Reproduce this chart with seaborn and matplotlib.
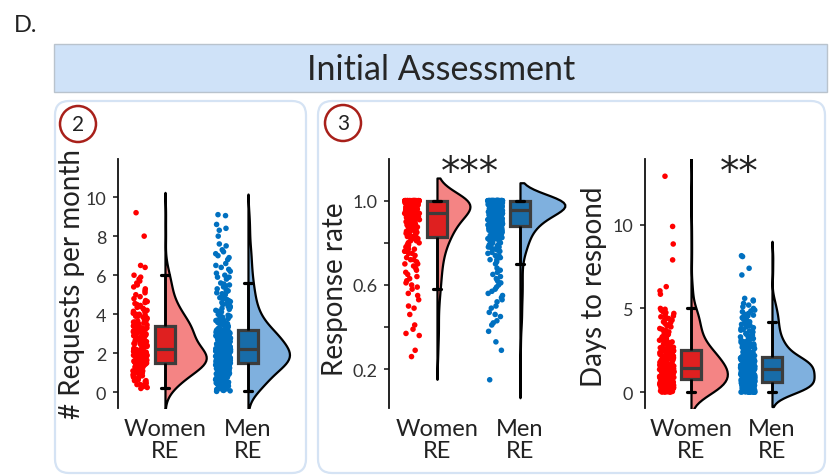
import numpy as np
import pandas as pd
import seaborn as sns
import matplotlib.pyplot as plt
import matplotlib.transforms as mtransforms
from matplotlib.patches import FancyBboxPatch, Rectangle, Circle

sns.set_theme(style="ticks")
plt.rcParams['font.family'] = ['Lato', 'DejaVu Sans']

np.random.seed(3)

groups = ["Women\nRE", "Men\nRE"]
dot_colors = ["#ff0000", "#0070c0"]
cloud_colors = ["#f48484", "#7fb0de"]
box_edge = "#3c3c3c"

# requests per month
req_women = [0.2, 0.3, 0.4, 0.4, 0.5, 0.6, 0.6, 0.7, 0.8, 0.8, 0.9, 0.9, 1.0, 1.0, 1.1,
             1.1, 1.1, 1.2, 1.2, 1.2, 1.3, 1.3, 1.3, 1.3, 1.4, 1.4, 1.4, 1.4, 1.5, 1.5,
             0.25, 0.35, 0.45, 0.55, 0.65, 0.75, 0.85, 0.95, 1.05, 1.15, 1.15, 1.25,
             1.25, 1.35, 1.35, 1.45, 1.45, 1.45, 1.5, 1.5,
             1.5, 1.5, 1.6, 1.6, 1.6, 1.6, 1.7, 1.7, 1.7, 1.7, 1.7, 1.8, 1.8, 1.8, 1.8,
             1.9, 1.9, 1.9, 1.9, 2.0, 2.0, 2.0, 2.0, 2.1, 2.1, 2.1, 2.1, 2.2, 2.2, 2.2,
             1.55, 1.55, 1.65, 1.65, 1.65, 1.75, 1.75, 1.75, 1.85, 1.85, 1.85, 1.95,
             1.95, 1.95, 2.05, 2.05, 2.15, 2.15, 2.2, 2.2,
             2.2, 2.3, 2.3, 2.4, 2.4, 2.5, 2.5, 2.6, 2.6, 2.7, 2.7, 2.8, 2.8, 2.9, 2.9,
             3.0, 3.0, 3.0, 3.1, 3.1, 3.1, 3.2, 3.2, 3.2, 3.3, 3.3, 3.3, 3.4, 3.4, 3.4,
             2.25, 2.35, 2.45, 2.55, 2.65, 2.75, 2.85, 2.95, 3.05, 3.15, 3.25, 3.35,
             2.3, 2.5, 2.7, 2.9, 3.1, 3.3, 2.6, 3.0,
             3.5, 3.5, 3.6, 3.6, 3.7, 3.7, 3.8, 3.9, 3.9, 4.0, 4.1, 4.2, 4.3, 4.4, 4.5,
             4.6, 4.7, 4.8, 5.0, 5.1, 5.3, 5.5, 5.6, 5.8, 5.9, 6.0, 6.4, 6.5, 8.0, 9.2,
             3.45, 3.55, 3.65, 3.75, 3.85, 3.95, 4.05, 4.15, 4.25, 4.35, 4.45, 4.55,
             4.65, 4.9, 5.2, 5.4, 5.7, 3.6, 3.8, 4.0]
req_men = [0.05, 0.1, 0.1, 0.15, 0.2, 0.2, 0.25, 0.3, 0.3, 0.35, 0.4, 0.4, 0.45, 0.5, 0.5,
           0.55, 0.6, 0.6, 0.65, 0.7, 0.7, 0.75, 0.8, 0.8, 0.85, 0.9, 0.9, 0.95, 1.0, 1.0,
           1.05, 1.1, 1.1, 1.15, 1.2, 1.2, 1.25, 1.25, 1.3, 1.3, 1.35, 1.35, 1.4, 1.4, 1.4,
           1.45, 1.45, 1.5, 1.5, 1.5,
           0.08, 0.12, 0.18, 0.22, 0.28, 0.32, 0.38, 0.42, 0.48, 0.52, 0.58, 0.62, 0.68,
           0.72, 0.78, 0.82, 0.88, 0.92, 0.98, 1.02, 1.08, 1.12, 1.18, 1.22, 1.28, 1.32,
           1.38, 1.42, 1.48, 1.15, 1.25, 1.35, 1.45, 1.05, 0.95, 1.3, 1.4, 1.2, 1.1, 1.47,
           1.50, 1.51, 1.53, 1.54, 1.56, 1.57, 1.58, 1.60, 1.61, 1.63, 1.64, 1.65, 1.67,
           1.68, 1.70, 1.71, 1.72, 1.74, 1.75, 1.77, 1.78, 1.79, 1.81, 1.82, 1.84, 1.85,
           1.86, 1.88, 1.89, 1.91, 1.92, 1.93, 1.95, 1.96, 1.98, 1.99, 2.00, 2.02, 2.03,
           2.05, 2.06, 2.07, 2.09, 2.10, 2.12, 2.13, 2.14, 2.16, 2.18, 2.20,
           1.52, 1.55, 1.59, 1.62, 1.66, 1.69, 1.73, 1.76, 1.8, 1.83, 1.87, 1.9, 1.94,
           1.97, 2.01, 2.04, 2.08, 2.11, 2.15, 2.19, 1.53, 1.6, 1.67, 1.74, 1.81, 1.88,
           1.95, 2.02, 2.09, 2.17, 1.58, 1.7, 1.78, 1.86, 1.92, 2.0, 1.63, 1.76, 1.84, 1.9,
           2.21, 2.23, 2.24, 2.27, 2.28, 2.31, 2.32, 2.35, 2.36, 2.39, 2.41, 2.42, 2.45,
           2.46, 2.49, 2.51, 2.52, 2.55, 2.57, 2.58, 2.61, 2.63, 2.64, 2.67, 2.68, 2.71,
           2.73, 2.74, 2.77, 2.78, 2.81, 2.83, 2.84, 2.87, 2.88, 2.91, 2.93, 2.94, 2.97,
           2.98, 3.01, 3.03, 3.04, 3.07, 3.08, 3.11, 3.13, 3.15, 3.17, 3.2,
           2.22, 2.25, 2.3, 2.34, 2.38, 2.43, 2.47, 2.53, 2.56, 2.6, 2.65, 2.69, 2.72,
           2.76, 2.8, 2.85, 2.9, 2.95, 2.99, 3.02, 3.06, 3.1, 3.14, 3.18, 2.26, 2.37,
           2.48, 2.59, 2.7, 2.82, 2.92, 3.05, 2.33, 2.55, 2.75, 2.96, 2.44, 2.66, 2.86, 3.12,
           3.2, 3.25, 3.3, 3.35, 3.4, 3.45, 3.5, 3.55, 3.6, 3.65, 3.7, 3.75, 3.8, 3.9,
           3.95, 4.0, 4.1, 4.15, 4.2, 4.3, 4.4, 4.45, 4.5, 4.6, 4.7, 4.8, 4.9, 5.0, 5.1,
           5.2, 5.3, 5.4, 5.5, 5.55, 5.6, 5.8, 5.9, 6.0, 6.1, 6.3, 6.5, 6.6, 6.9, 7.0,
           7.2, 7.5, 8.0, 8.3, 8.6, 9.1,
           3.22, 3.28, 3.33, 3.38, 3.42, 3.48, 3.52, 3.58, 3.62, 3.68, 3.72, 3.78, 3.85,
           3.92, 4.05, 4.12, 4.25, 4.35, 4.55, 4.65, 4.75, 4.85, 5.05, 5.15, 5.25, 5.45,
           3.5, 3.7, 3.9, 4.1, 4.4, 5.9, 6.2, 6.4, 6.8, 7.1, 7.3, 7.6, 8.4, 9.05]

# response rate
resp_women = [0.26, 0.29, 0.36, 0.37, 0.39, 0.41, 0.49, 0.50, 0.55, 0.56,
              0.59, 0.60, 0.62, 0.64, 0.66, 0.67, 0.69, 0.70, 0.71, 0.72,
              0.73, 0.75, 0.76, 0.77, 0.78, 0.79, 0.80, 0.81, 0.82, 0.82,
              0.58, 0.61, 0.63, 0.65, 0.68, 0.70, 0.72, 0.74, 0.75, 0.76,
              0.77, 0.78, 0.79, 0.80, 0.80, 0.81, 0.82, 0.82, 0.46, 0.53,
              0.83, 0.83, 0.84, 0.84, 0.85, 0.85, 0.86, 0.86, 0.87, 0.87,
              0.87, 0.88, 0.88, 0.88, 0.89, 0.89, 0.90, 0.90, 0.90, 0.91,
              0.91, 0.91, 0.92, 0.92, 0.92, 0.93, 0.93, 0.93, 0.93, 0.94,
              0.83, 0.84, 0.845, 0.85, 0.855, 0.86, 0.865, 0.87, 0.875, 0.88,
              0.885, 0.89, 0.895, 0.90, 0.905, 0.91, 0.915, 0.92, 0.925, 0.935,
              0.94, 0.94, 0.94, 0.94, 0.94, 0.95, 0.95, 0.95, 0.95, 0.95,
              0.96, 0.96, 0.96, 0.96, 0.97, 0.97, 0.97, 0.97, 0.98, 0.98,
              0.98, 0.99, 0.99, 0.99,
              0.99, 0.99, 0.98, 0.98, 0.97, 0.97, 0.97, 0.96, 0.96, 0.96,
              0.95, 0.95, 0.95, 0.945, 0.945, 0.94,
              1.0, 1.0, 1.0, 1.0, 1.0, 1.0, 1.0, 1.0, 1.0, 1.0, 1.0, 1.0,
              1.0, 1.0, 1.0, 1.0, 1.0, 1.0, 1.0, 1.0, 1.0, 1.0, 1.0, 1.0,
              1.0, 1.0, 1.0, 1.0, 1.0, 1.0, 1.0, 1.0, 1.0, 1.0, 1.0, 1.0,
              1.0, 1.0, 1.0, 1.0, 1.0, 1.0, 1.0, 1.0, 1.0, 1.0, 1.0, 1.0,
              1.0, 1.0, 1.0, 1.0, 1.0, 1.0, 1.0, 1.0, 1.0, 1.0, 1.0, 1.0]
resp_men = [0.15, 0.29, 0.33, 0.41, 0.43, 0.45, 0.47, 0.50, 0.52, 0.54, 0.56, 0.58, 0.60,
            0.62, 0.64, 0.66, 0.68,
            0.71, 0.72, 0.73, 0.74, 0.75, 0.76, 0.77, 0.78, 0.78, 0.79, 0.80, 0.80, 0.81,
            0.81, 0.82, 0.82, 0.83, 0.83, 0.84, 0.84, 0.85, 0.85, 0.85, 0.86, 0.86, 0.86,
            0.87, 0.87, 0.87, 0.875, 0.875, 0.876, 0.877,
            0.38, 0.42, 0.46, 0.49, 0.53, 0.55, 0.57, 0.59, 0.61, 0.63, 0.65, 0.67,
            0.70, 0.72, 0.74, 0.755, 0.765, 0.775, 0.785, 0.795, 0.805, 0.815, 0.825,
            0.835, 0.845, 0.855, 0.865, 0.87, 0.872, 0.874, 0.80, 0.81, 0.82, 0.83,
            0.84, 0.85, 0.86, 0.79, 0.78, 0.77,
            0.88, 0.88, 0.885, 0.89, 0.89, 0.895, 0.90, 0.90, 0.90, 0.905, 0.91, 0.91,
            0.91, 0.915, 0.915, 0.92, 0.92, 0.92, 0.92, 0.925, 0.925, 0.93, 0.93, 0.93,
            0.93, 0.935, 0.935, 0.935, 0.94, 0.94, 0.94, 0.94, 0.94, 0.945, 0.945, 0.945,
            0.945, 0.95, 0.95, 0.95, 0.95, 0.95, 0.95, 0.95, 0.953, 0.953, 0.954, 0.954,
            0.955, 0.955,
            0.879, 0.882, 0.884, 0.887, 0.889, 0.892, 0.894, 0.897, 0.899, 0.902, 0.904,
            0.907, 0.909, 0.912, 0.914, 0.917, 0.919, 0.922, 0.924, 0.927, 0.929, 0.932,
            0.934, 0.937, 0.939, 0.942, 0.944, 0.947, 0.949, 0.951, 0.952, 0.953, 0.954,
            0.955, 0.93, 0.92, 0.91, 0.90, 0.94, 0.95,
            0.956, 0.956, 0.956, 0.956, 0.96, 0.96, 0.96, 0.96, 0.96, 0.96, 0.96, 0.96,
            0.965, 0.965, 0.965, 0.965, 0.965, 0.965, 0.97, 0.97, 0.97, 0.97, 0.97, 0.97,
            0.975, 0.975, 0.975, 0.975, 0.98, 0.98, 0.98, 0.98, 0.98, 0.98,
            0.99, 0.99, 0.99, 0.99, 0.99, 0.99,
            0.957, 0.958, 0.96, 0.96, 0.962, 0.963, 0.965, 0.966, 0.968, 0.97, 0.97,
            0.972, 0.974, 0.975, 0.977, 0.978, 0.98, 0.98, 0.982, 0.984, 0.985, 0.986,
            0.988, 0.99, 0.99, 0.992, 0.994, 0.995, 0.996, 0.997, 0.998, 0.999,
            1.0, 1.0, 1.0, 1.0, 1.0, 1.0, 1.0, 1.0, 1.0, 1.0, 1.0, 1.0, 1.0, 1.0, 1.0,
            1.0, 1.0, 1.0, 1.0, 1.0, 1.0, 1.0, 1.0, 1.0, 1.0, 1.0, 1.0, 1.0, 1.0, 1.0,
            1.0, 1.0, 1.0, 1.0, 1.0, 1.0, 1.0, 1.0, 1.0, 1.0, 1.0, 1.0, 1.0, 1.0, 1.0,
            1.0, 1.0, 1.0, 1.0, 1.0, 1.0, 1.0, 1.0, 1.0, 1.0, 1.0, 1.0, 1.0, 1.0, 1.0,
            1.0, 1.0, 1.0, 1.0, 1.0, 1.0, 1.0, 1.0, 1.0, 1.0, 1.0, 1.0, 1.0, 1.0, 1.0,
            1.0, 1.0, 1.0, 1.0, 1.0, 1.0, 1.0, 1.0, 1.0, 1.0, 1.0, 1.0, 1.0, 1.0, 1.0,
            1.0, 1.0, 1.0, 1.0, 1.0, 1.0, 1.0, 1.0, 1.0, 1.0, 1.0, 1.0, 1.0, 1.0, 1.0,
            1.0, 1.0, 1.0]

# days to respond
days_women = [0.0, 0.0, 0.02, 0.03, 0.05, 0.06, 0.08, 0.1, 0.1, 0.12, 0.15, 0.17, 0.2,
              0.22, 0.25, 0.27, 0.3, 0.32, 0.35, 0.37, 0.4, 0.42, 0.45, 0.48, 0.5, 0.52,
              0.55, 0.58, 0.6, 0.63, 0.66, 0.7, 0.75,
              0.0, 0.01, 0.04, 0.07, 0.09, 0.11, 0.14, 0.18, 0.21, 0.24, 0.28, 0.31,
              0.34, 0.38, 0.43, 0.47, 0.53, 0.57, 0.65, 0.72,
              0.77, 0.8, 0.82, 0.84, 0.86, 0.88, 0.9, 0.92, 0.94, 0.96, 0.98, 1.0, 1.02,
              1.05, 1.07, 1.1, 1.12, 1.14, 1.17, 1.2, 1.22, 1.24, 1.27, 1.29, 1.31, 1.33,
              1.35, 1.37, 1.39, 1.41, 1.43, 1.45,
              0.79, 0.83, 0.87, 0.91, 0.95, 0.99, 1.03, 1.06, 1.09, 1.13, 1.16, 1.19,
              1.23, 1.26, 1.3, 1.34, 1.36, 1.4, 1.42, 1.44,
              1.47, 1.5, 1.53, 1.56, 1.6, 1.63, 1.66, 1.7, 1.73, 1.76, 1.8, 1.83, 1.86,
              1.9, 1.93, 1.96, 2.0, 2.03, 2.06, 2.1, 2.13, 2.16, 2.2, 2.23, 2.26, 2.3,
              2.33, 2.36, 2.4, 2.43, 2.46, 2.48,
              1.48, 1.52, 1.58, 1.62, 1.68, 1.72, 1.78, 1.85, 1.91, 1.98, 2.05, 2.08,
              2.15, 2.18, 2.25, 2.28, 2.35, 2.38, 2.42, 2.47,
              2.52, 2.6, 2.7, 2.8, 2.9, 3.0, 3.1, 3.2, 3.3, 3.4, 3.5, 3.6, 3.7, 3.8, 3.9,
              4.0, 4.1, 4.2, 4.3, 4.4, 4.5, 4.6, 4.7, 4.8, 4.9, 5.0,
              5.85, 6.05, 6.3, 7.9, 8.85, 9.9, 12.9,
              2.55, 2.65, 2.75, 2.85, 2.95, 3.05, 3.15, 3.25, 3.45, 3.55, 3.75, 3.95,
              4.15, 4.35, 4.55, 4.75, 4.95, 2.58, 2.68, 3.35]
days_men = [0.0, 0.0, 0.0, 0.0, 0.0, 0.02, 0.03, 0.04, 0.05, 0.06, 0.07, 0.08, 0.09, 0.1,
            0.11, 0.12, 0.13, 0.14, 0.15, 0.16, 0.18, 0.2, 0.21, 0.22, 0.24, 0.25, 0.27,
            0.28, 0.3, 0.31, 0.33, 0.34, 0.36, 0.37, 0.39, 0.4, 0.42, 0.43, 0.45, 0.46,
            0.48, 0.49, 0.5, 0.52, 0.53, 0.55, 0.56, 0.57, 0.58, 0.6,
            0.0, 0.0, 0.0, 0.01, 0.02, 0.03, 0.05, 0.06, 0.08, 0.1, 0.12, 0.14, 0.16,
            0.17, 0.19, 0.21, 0.23, 0.25, 0.26, 0.28, 0.3, 0.32, 0.34, 0.35, 0.37, 0.39,
            0.41, 0.43, 0.44, 0.46, 0.48, 0.5, 0.51, 0.53, 0.54, 0.55, 0.56, 0.57, 0.58,
            0.59,
            0.61, 0.63, 0.64, 0.66, 0.67, 0.69, 0.7, 0.72, 0.73, 0.75, 0.76, 0.78, 0.79,
            0.81, 0.82, 0.84, 0.85, 0.87, 0.88, 0.9, 0.91, 0.93, 0.94, 0.96, 0.97, 0.99,
            1.0, 1.02, 1.03, 1.05, 1.06, 1.08, 1.09, 1.11, 1.12, 1.14, 1.15, 1.17, 1.18,
            1.2, 1.22, 1.23, 1.25, 1.27, 1.28, 1.3, 1.32, 1.33, 1.35, 1.36,
            0.62, 0.65, 0.68, 0.71, 0.74, 0.77, 0.8, 0.83, 0.86, 0.89, 0.92, 0.95, 0.98,
            1.01, 1.04, 1.07, 1.1, 1.13, 1.16, 1.19, 1.21, 1.24, 1.26, 1.29, 1.31, 1.34,
            1.36, 0.7, 0.8, 0.9, 1.0, 1.1, 1.2, 1.3, 0.75, 0.85, 0.95, 1.05, 1.15, 1.25,
            1.38, 1.39, 1.41, 1.42, 1.44, 1.45, 1.47, 1.48, 1.5, 1.51, 1.53, 1.54, 1.56,
            1.57, 1.59, 1.6, 1.61, 1.63, 1.64, 1.66, 1.67, 1.69, 1.7, 1.71, 1.73, 1.74,
            1.76, 1.77, 1.79, 1.8, 1.81, 1.83, 1.84, 1.86, 1.87, 1.89, 1.9, 1.91, 1.93,
            1.94, 1.96, 1.97, 1.99, 2.0, 2.01, 2.02, 2.03, 2.05, 2.06, 2.07,
            1.38, 1.4, 1.43, 1.46, 1.49, 1.52, 1.55, 1.58, 1.62, 1.65, 1.68, 1.72, 1.75,
            1.78, 1.82, 1.85, 1.88, 1.92, 1.95, 1.98, 2.01, 2.04, 2.06, 2.07, 1.5, 1.6,
            1.7, 1.8, 1.9, 2.0, 1.45, 1.55, 1.65, 1.75, 1.85, 1.95, 1.42, 1.58, 1.72, 1.88,
            2.1, 2.15, 2.2, 2.25, 2.3, 2.35, 2.4, 2.45, 2.5, 2.55, 2.6, 2.65, 2.7, 2.75,
            2.8, 2.85, 2.9, 2.95, 3.0, 3.1, 3.2, 3.3, 3.4, 3.5, 3.6, 3.7, 3.8, 3.9, 3.95,
            4.0, 4.15, 4.2, 4.35, 4.4, 4.45, 4.5, 4.6, 4.65, 4.7, 4.8, 4.9, 5.0, 5.1, 5.3,
            5.5, 5.6, 7.0, 7.4, 8.1, 8.15,
            2.12, 2.18, 2.22, 2.28, 2.32, 2.38, 2.42, 2.48, 2.52, 2.58, 2.62, 2.68, 2.72,
            2.78, 2.82, 2.88, 2.92, 2.98, 3.05, 3.15, 3.25, 3.35, 3.45, 3.55, 3.65, 3.75,
            3.85, 4.05, 4.1, 2.4, 2.6, 2.8, 3.0, 3.2, 3.6, 4.4, 4.55, 4.85, 5.2, 5.45]

W, H = 835, 477
fig = plt.figure(figsize=(W / 100, H / 100), dpi=100)
fig.patch.set_facecolor("white")

# pixel coordinates, origin at the bottom-left corner
px = mtransforms.Affine2D().scale(1 / W, 1 / H) + fig.transFigure


def rounded_panel(x0, top, x1, bottom):
    fig.patches.append(FancyBboxPatch(
        (x0, H - bottom), x1 - x0, bottom - top,
        boxstyle="round,pad=0,rounding_size=14", transform=px,
        facecolor="white", edgecolor="#d5e3f4", linewidth=1.6, zorder=-3))


def circled(x, y, label):
    fig.patches.append(Circle((x, H - y), 18, transform=px, facecolor="white",
                              edgecolor="#a8201a", linewidth=1.8, zorder=-2))
    fig.text(x / W, 1 - y / H, label, ha="center", va="center", fontsize=15,
             color="#222222")


fig.text(14 / W, 1 - 25 / H, "D.", fontsize=17, ha="left", va="center",
         color="#222222")
fig.patches.append(Rectangle((54, H - 93), 773, 48, transform=px,
                             facecolor="#cfe2f8", edgecolor="#b9c3cd",
                             linewidth=1.0, zorder=-3))
fig.text(441 / W, 1 - 70 / H, "Initial Assessment", fontsize=24.5,
         ha="center", va="center", color="#262626")
rounded_panel(55, 102, 306, 474)
rounded_panel(318, 102, 825, 474)
circled(78, 125, "2")
circled(343, 124, "3")


def raincloud(ax, women, men, ylabel, ylim, xlim, width, label_xy):
    df = pd.DataFrame({
        "group": [groups[0]] * len(women) + [groups[1]] * len(men),
        "value": women + men,
    })
    # every value goes on the right-hand half of a split violin
    df["side"] = "cloud"

    # rain: jittered points moved left of each category
    n0 = len(ax.collections)
    sns.stripplot(data=df, x="group", y="value", hue="group", order=groups,
                  hue_order=groups, palette=dot_colors, jitter=0.09, size=4.0,
                  linewidth=0, legend=False, ax=ax)
    shift = mtransforms.Affine2D().translate(-0.3, 0)
    for coll in ax.collections[n0:]:
        coll.set_offset_transform(shift + ax.transData)

    # cloud: half violins, flat side on the category position
    n1 = len(ax.collections)
    sns.violinplot(data=df, x="group", y="value", hue="side", order=groups,
                   hue_order=["rain", "cloud"], split=True, dodge=False,
                   palette={"rain": "white", "cloud": cloud_colors[0]},
                   inner=None, linecolor="black", linewidth=1.6, width=width,
                   legend=False, ax=ax)
    to_right = mtransforms.Affine2D().translate(width / 2, 0)
    for coll, c in zip(ax.collections[n1:], cloud_colors):
        coll.set_facecolor(c)
        coll.set_alpha(None)
        coll.set_transform(to_right + ax.transData)

    sns.boxplot(data=df, x="group", y="value", hue="group", order=groups,
                hue_order=groups, palette=dot_colors, width=0.24,
                showfliers=False, linecolor=box_edge, linewidth=2.3,
                whiskerprops=dict(color="black", linewidth=2.0),
                capprops=dict(color="black", linewidth=2.3),
                medianprops=dict(color=box_edge, linewidth=2.3),
                capwidths=0.1, legend=False, ax=ax)

    ax.set_facecolor("none")
    ax.set_xlim(*xlim)
    ax.set_ylim(*ylim)
    sns.despine(ax=ax, bottom=True)
    ax.spines["left"].set_color("#111111")
    ax.spines["left"].set_linewidth(1.3)
    ax.tick_params(axis="x", length=0, pad=7, labelsize=17, labelcolor="#222222")
    ax.tick_params(axis="y", length=3.5, width=1.1, pad=5, labelsize=13,
                   labelcolor="#333333", color="#111111")
    for t in ax.get_xticklabels():
        t.set_linespacing(1.05)
    ax.set_xlabel("")
    ax.set_ylabel(ylabel, fontsize=20, color="#222222")
    ax.yaxis.set_label_coords(*label_xy)
    ax.yaxis.label.set_verticalalignment("center")


def axes_at(left_px, right_px):
    top, bottom = 160, 409
    return fig.add_axes([left_px / W, 1 - bottom / H,
                         (right_px - left_px) / W, (bottom - top) / H])


def stars(ax, x, label):
    ax.text(x, 0.905, label, transform=ax.get_xaxis_transform(), ha="center",
            va="baseline", fontsize=28, family="DejaVu Sans", color="#222222")


ax1 = axes_at(118, 305)
raincloud(ax1, req_women, req_men, "# Requests per month", (-0.8, 11.95),
          (-0.566, 1.687), 0.5, ((72 - 118) / 187, 0.5))
ax1.set_yticks([0, 2, 4, 6, 8, 10])

ax2 = axes_at(389, 575)
raincloud(ax2, resp_women, resp_men, "Response rate", (0.016, 1.198),
          (-0.578, 1.663), 0.54, ((335 - 389) / 186, 0.48))
ax2.set_yticks([0.2, 0.4, 0.6, 0.8, 1.0])
ax2.set_yticklabels(["0.2", "", "0.6", "", "1.0"])
stars(ax2, 0.4, "***")

ax3 = axes_at(645, 820)
raincloud(ax3, days_women, days_men, "Days to respond", (-0.95, 13.93),
          (-0.568, 1.593), 0.52, ((594 - 645) / 175, 0.49))
ax3.set_yticks([0, 5, 10])
stars(ax3, 0.6, "**")

fig.savefig("out.png", dpi=100)
